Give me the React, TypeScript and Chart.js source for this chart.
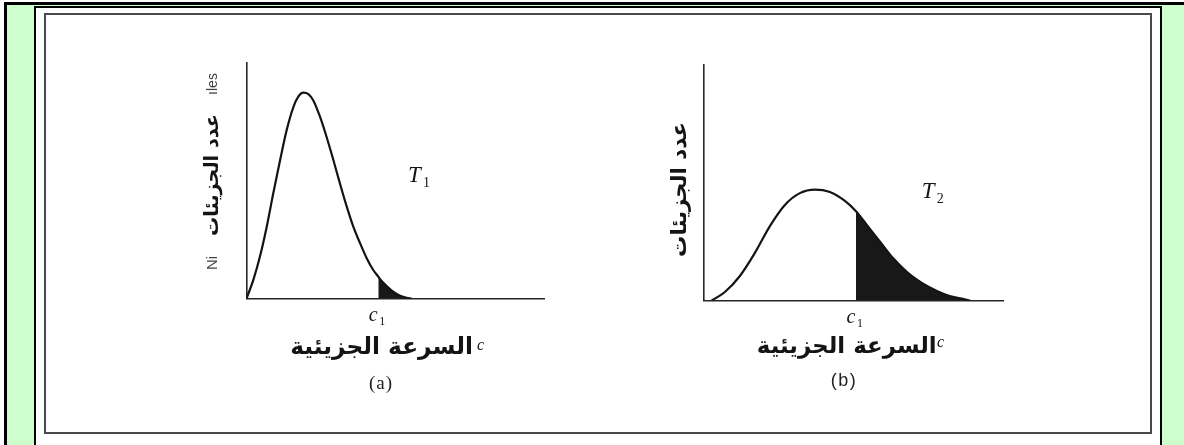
import { useEffect, useRef } from "react";
import { Chart, registerables } from "chart.js";
import type { Plugin } from "chart.js";

Chart.register(...registerables);

const W = 1184;
const H = 445;
const INK = "#141414";

// Panel (a), temperature T1: molecular speed c against number of molecules N
const SPEED_A = [0, 2.3, 4.5, 6.8, 9.0, 11.3, 13.5, 15.7, 17.4, 19.1, 20.8, 22.5, 24.7, 26.9, 29.2, 31.4, 33.7, 35.9, 38.2, 40.4, 42.6, 44.3, 44.9, 47.1, 49.3, 51.6, 53.8, 55.5];
const COUNT_A = [0, 7.9, 17.7, 30.5, 44.7, 58.8, 71.5, 81.1, 85.7, 87.4, 86.8, 84.0, 77.2, 68.7, 58.8, 48.9, 39.0, 30.5, 23.4, 17.1, 12.1, 9.3, 8.2, 5.3, 2.9, 1.2, 0.3, 0];
const C1_A = 44.3;

// Panel (b), higher temperature T2
const SPEED_B = [2.8, 7.2, 12.2, 17.2, 22.2, 27.2, 32.2, 37.2, 42.2, 47.2, 50.9, 54.5, 58.9, 63.3, 67.8, 72.2, 76.7, 81.1, 85.6, 88.9];
const COUNT_B = [0, 3.6, 10.4, 20.2, 31.6, 40.6, 45.6, 47.1, 46.1, 42.3, 37.9, 32.1, 25.0, 17.9, 12.2, 8.0, 4.8, 2.3, 0.9, 0];
const C1_B = 50.9;

const Y_TITLE = "عدد الجزيئات";
const X_TITLE = "السرعة الجزيئية";
const ARABIC = '"DejaVu Sans", sans-serif';
const SERIF = '"Liberation Serif", "Times New Roman", serif';
const SANS = '"Liberation Sans", Arial, sans-serif';

type Area = { left: number; top: number; right: number; bottom: number };

type PanelText = {
  id: string;
  c1: number;
  yTitle: { x: number; y: number; len: number };
  yExtras: { text: string; y: number; font: string }[];
  temp: { sub: string; x: number; y: number };
  xTitle: { right: number; y: number; len: number; cx: number; cy: number };
  caption: { text: string; x: number; y: number; font: string; spacing: string };
};

function fitSize(ctx: CanvasRenderingContext2D, text: string, weight: string, family: string, len: number) {
  const base = 20;
  ctx.font = `${weight} ${base}px ${family}`;
  const w = ctx.measureText(text).width || 1;
  return (base * len) / w;
}

function panelText(p: PanelText): Plugin<"line"> {
  return {
    id: "panelText" + p.id,
    afterDraw(chart) {
      const { ctx } = chart;
      const xs = chart.scales.x;
      const area = chart.chartArea;
      ctx.save();
      ctx.fillStyle = INK;

      // vertical axis title
      ctx.save();
      ctx.translate(p.yTitle.x, p.yTitle.y);
      ctx.rotate(-Math.PI / 2);
      const ys = fitSize(ctx, Y_TITLE, "bold", ARABIC, p.yTitle.len);
      ctx.font = `bold ${ys}px ${ARABIC}`;
      ctx.textAlign = "center";
      ctx.textBaseline = "middle";
      ctx.fillText(Y_TITLE, 0, 0);
      ctx.restore();
      for (const e of p.yExtras) {
        ctx.save();
        ctx.translate(p.yTitle.x, e.y);
        ctx.rotate(-Math.PI / 2);
        ctx.font = e.font;
        ctx.fillStyle = "#404040";
        ctx.textAlign = "center";
        ctx.textBaseline = "middle";
        ctx.fillText(e.text, 0, 0);
        ctx.restore();
      }

      // temperature tag
      ctx.textAlign = "left";
      ctx.textBaseline = "alphabetic";
      ctx.font = `italic 23px ${SERIF}`;
      ctx.fillText("T", p.temp.x, p.temp.y);
      ctx.font = `14px ${SERIF}`;
      ctx.fillText(p.temp.sub, p.temp.x + 15, p.temp.y + 5);

      // c1 marker under the axis
      const c1x = xs.getPixelForValue(p.c1);
      ctx.textAlign = "center";
      ctx.font = `italic 20px ${SERIF}`;
      ctx.fillText("c", c1x - 5, area.bottom + 22.5);
      ctx.textAlign = "left";
      ctx.font = `12px ${SERIF}`;
      ctx.fillText("1", c1x + 1, area.bottom + 26);

      // horizontal axis title
      const xsz = fitSize(ctx, X_TITLE, "bold", ARABIC, p.xTitle.len);
      ctx.font = `bold ${xsz}px ${ARABIC}`;
      ctx.textAlign = "right";
      ctx.textBaseline = "middle";
      ctx.fillText(X_TITLE, p.xTitle.right, p.xTitle.y);
      ctx.font = `italic 16px ${SERIF}`;
      ctx.textAlign = "center";
      ctx.fillText("c", p.xTitle.cx, p.xTitle.cy);

      // panel caption
      ctx.font = p.caption.font;
      ctx.fillStyle = "#222";
      (ctx as any).letterSpacing = p.caption.spacing;
      ctx.fillText(p.caption.text, p.caption.x, p.caption.y);
      ctx.restore();
    },
  };
}

function buildChart(canvas: HTMLCanvasElement, speed: number[], count: number[], c1: number, area: Area, text: PanelText) {
  const curve = speed.map((x, i) => ({ x, y: count[i] }));
  const tail = curve.filter((p) => p.x >= c1);
  const axis = (max: number) => ({
    type: "linear" as const,
    min: 0,
    max,
    grid: { display: false, drawTicks: false },
    ticks: { display: false },
    border: { display: true, color: "#262626", width: 1.6 },
  });
  return new Chart(canvas, {
    type: "line",
    data: {
      datasets: [
        {
          data: tail,
          borderWidth: 0,
          borderColor: "rgba(0,0,0,0)",
          backgroundColor: "#181818",
          fill: "origin",
          pointRadius: 0,
          cubicInterpolationMode: "monotone",
          order: 2,
        },
        {
          data: curve,
          borderColor: INK,
          borderWidth: 2.2,
          fill: false,
          pointRadius: 0,
          cubicInterpolationMode: "monotone",
          order: 1,
        },
      ],
    },
    options: {
      responsive: false,
      animation: false,
      events: [],
      layout: {
        padding: { left: area.left, top: area.top, right: W - area.right, bottom: H - area.bottom },
      },
      plugins: { legend: { display: false }, tooltip: { enabled: false } },
      scales: { x: axis(100), y: axis(100) },
    },
    plugins: [panelText(text)],
  });
}

export default function App() {
  const refA = useRef<HTMLCanvasElement>(null);
  const refB = useRef<HTMLCanvasElement>(null);

  useEffect(() => {
    const a = buildChart(
      refA.current!,
      SPEED_A,
      COUNT_A,
      C1_A,
      { left: 246.5, top: 63, right: 544, bottom: 298.5 },
      {
        id: "A",
        c1: C1_A,
        yTitle: { x: 213, y: 175, len: 122 },
        yExtras: [
          { text: "Ni", y: 263, font: `15px ${SANS}` },
          { text: "ıles", y: 84, font: `14px ${SANS}` },
        ],
        temp: { sub: "1", x: 408, y: 182 },
        xTitle: { right: 473, y: 347.5, len: 183, cx: 480.5, cy: 346 },
        caption: { text: "(a)", x: 381, y: 384, font: `19px ${SERIF}`, spacing: "1px" },
      }
    );
    const b = buildChart(
      refB.current!,
      SPEED_B,
      COUNT_B,
      C1_B,
      { left: 703.3, top: 65, right: 1003.3, bottom: 300.5 },
      {
        id: "B",
        c1: C1_B,
        yTitle: { x: 680, y: 189.5, len: 135 },
        yExtras: [],
        temp: { sub: "2", x: 921.7, y: 198 },
        xTitle: { right: 936.7, y: 347.5, len: 180, cx: 940.5, cy: 343 },
        caption: { text: "(b)", x: 844, y: 381, font: `18px ${SANS}`, spacing: "1.5px" },
      }
    );
    return () => {
      a.destroy();
      b.destroy();
    };
  }, []);

  const canvasStyle: React.CSSProperties = { position: "absolute", left: 0, top: 0 };

  return (
    <div style={{ position: "absolute", left: 0, top: 0, width: W, height: H, overflow: "hidden", background: "#fff" }}>
      <div
        style={{
          position: "absolute",
          left: 4,
          top: 2,
          width: W,
          height: H,
          borderLeft: "3px solid #000",
          borderTop: "3px solid #000",
          background: "#CCFFCC",
        }}
      />
      <div
        style={{
          position: "absolute",
          left: 34,
          top: 6,
          width: 1124,
          height: H,
          borderLeft: "2px solid #000",
          borderTop: "2px solid #000",
          borderRight: "2px solid #000",
          background: "#fff",
        }}
      />
      <div
        style={{
          position: "absolute",
          left: 44,
          top: 13,
          width: 1104,
          height: 417,
          border: "2px solid #4a4a4a",
        }}
      />
      <canvas ref={refA} width={W} height={H} style={canvasStyle} />
      <canvas ref={refB} width={W} height={H} style={canvasStyle} />
    </div>
  );
}
